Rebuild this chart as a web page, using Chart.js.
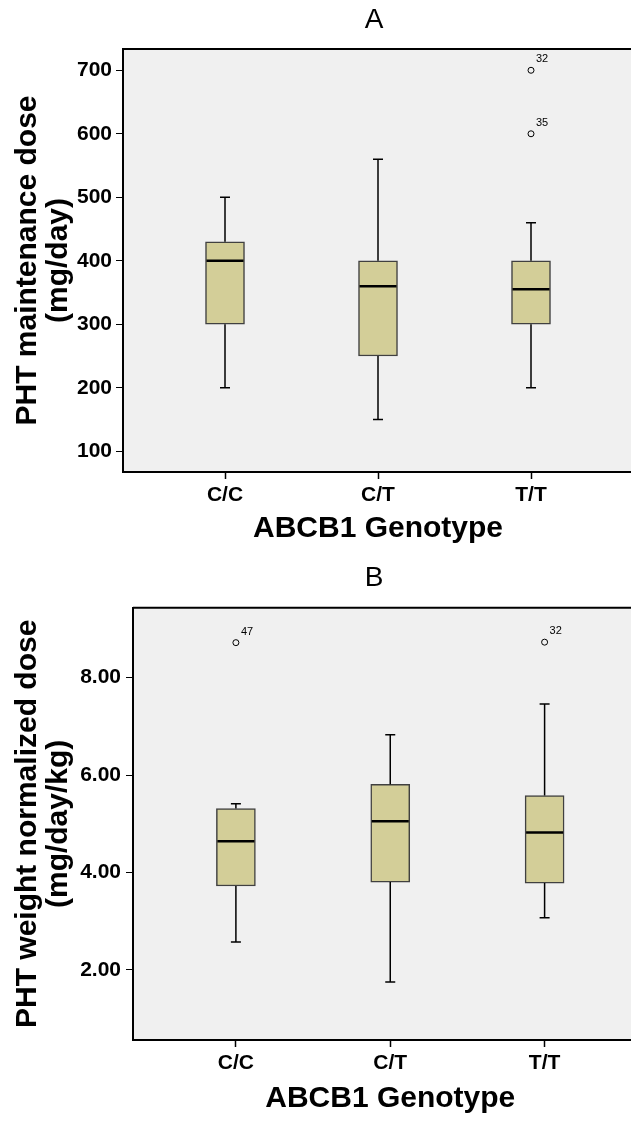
<!DOCTYPE html>
<html>
<head>
<meta charset="utf-8">
<script src="https://cdn.jsdelivr.net/npm/chart.js@4.4.0/dist/chart.umd.min.js"></script>
<style>
  html, body { margin: 0; padding: 0; background: #fff; overflow: hidden; }
  #page { position: relative; width: 631px; height: 1121px; overflow: hidden; }
  .panel { position: absolute; left: 0; }
</style>
</head>
<body>
<div id="page">
  <div class="panel" style="top:0"><canvas id="chartA" width="748" height="555"></canvas></div>
  <div class="panel" style="top:555px"><canvas id="chartB" width="748" height="566"></canvas></div>
</div>
<script>
var genotypes = ['C/C', 'C/T', 'T/T'];

// A: PHT maintenance dose, mg/day
var doseMin = [200, 150, 200];
var doseQ1 = [300, 250, 300];
var doseMedian = [400, 360, 355];
var doseQ3 = [430, 400, 400];
var doseMax = [500, 560, 460];
var doseOutliers = [
  { g: 'T/T', y: 700, id: '32' },
  { g: 'T/T', y: 600, id: '35' }
];
var doseTicks = [100, 200, 300, 400, 500, 600, 700];

// B: weight normalized dose, mg/day/kg
var normMin = [2.57, 1.75, 3.07];
var normQ1 = [3.72, 3.80, 3.78];
var normMedian = [4.64, 5.05, 4.82];
var normQ3 = [5.31, 5.81, 5.58];
var normMax = [5.41, 6.83, 7.46];
var normOutliers = [
  { g: 'C/C', y: 8.72, id: '47' },
  { g: 'T/T', y: 8.73, id: '32' }
];
var normTicks = [2, 4, 6, 8];

var FONT = "'Liberation Sans', Arial, sans-serif";
Chart.defaults.color = '#000';
Chart.defaults.font.family = FONT;

// grey plot background + top frame line
var plotFrame = {
  id: 'plotFrame',
  beforeDraw: function (chart) {
    var a = chart.chartArea, ctx = chart.ctx;
    ctx.save();
    ctx.fillStyle = '#f0f0f0';
    ctx.fillRect(a.left, a.top, a.right - a.left, a.bottom - a.top);
    ctx.restore();
  },
  afterDraw: function (chart) {
    var a = chart.chartArea, ctx = chart.ctx;
    ctx.save();
    ctx.strokeStyle = '#000';
    ctx.lineWidth = 2;
    ctx.beginPath();
    ctx.moveTo(a.left, a.top);
    ctx.lineTo(a.right, a.top);
    ctx.stroke();
    ctx.restore();
  }
};

// whiskers, caps, medians and outlier case numbers
var boxWhiskers = {
  id: 'boxWhiskers',
  afterDatasetsDraw: function (chart, args, opts) {
    var xs = chart.scales.x, ys = chart.scales.y, ctx = chart.ctx;
    var bars = chart.getDatasetMeta(0).data;
    ctx.save();
    ctx.strokeStyle = '#000';
    opts.median.forEach(function (m, i) {
      var cx = xs.getPixelForValue(i + 1);
      var half = bars[i].width / 2;
      var yq1 = ys.getPixelForValue(opts.q1[i]);
      var yq3 = ys.getPixelForValue(opts.q3[i]);
      var ylo = ys.getPixelForValue(opts.min[i]);
      var yhi = ys.getPixelForValue(opts.max[i]);
      var ym = ys.getPixelForValue(m);
      ctx.lineWidth = 1.5;
      ctx.beginPath();
      ctx.moveTo(cx, yq3); ctx.lineTo(cx, yhi);
      ctx.moveTo(cx, yq1); ctx.lineTo(cx, ylo);
      ctx.moveTo(cx - 5, yhi); ctx.lineTo(cx + 5, yhi);
      ctx.moveTo(cx - 5, ylo); ctx.lineTo(cx + 5, ylo);
      ctx.stroke();
      ctx.lineWidth = 2.5;
      ctx.beginPath();
      ctx.moveTo(cx - half + 1, ym);
      ctx.lineTo(cx + half - 1, ym);
      ctx.stroke();
    });
    ctx.font = '11px ' + FONT;
    ctx.fillStyle = '#000';
    ctx.textAlign = 'left';
    ctx.textBaseline = 'middle';
    chart.getDatasetMeta(1).data.forEach(function (pt, i) {
      ctx.fillText(opts.outliers[i].id, pt.x + 5, pt.y - 11);
    });
    ctx.restore();
  }
};

function boxChart(id, p) {
  return new Chart(document.getElementById(id), {
    type: 'bar',
    data: {
      datasets: [{
        type: 'bar',
        data: genotypes.map(function (g, i) { return { x: i + 1, y: [p.q1[i], p.q3[i]] }; }),
        backgroundColor: '#d3ce98',
        borderColor: '#404040',
        borderWidth: 1.5,
        borderSkipped: false,
        barThickness: 39
      }, {
        type: 'scatter',
        data: p.outliers.map(function (o) { return { x: genotypes.indexOf(o.g) + 1, y: o.y }; }),
        pointStyle: 'circle',
        pointRadius: 3,
        pointBorderWidth: 1,
        pointBorderColor: '#000',
        pointBackgroundColor: 'rgba(0,0,0,0)'
      }]
    },
    options: {
      responsive: false,
      animation: false,
      events: [],
      layout: { padding: 0 },
      plugins: {
        legend: { display: false },
        tooltip: { enabled: false },
        title: {
          display: true,
          text: p.title,
          font: { size: 28, weight: 'normal', family: FONT },
          color: '#000',
          padding: p.titlePad
        },
        boxWhiskers: { q1: p.q1, q3: p.q3, min: p.min, max: p.max, median: p.median, outliers: p.outliers }
      },
      scales: {
        x: {
          type: 'linear',
          offset: false,
          min: 1 / 3,
          max: 11 / 3,
          afterFit: function (s) { s.height = p.xHeight; },
          afterBuildTicks: function (s) { s.ticks = genotypes.map(function (g, i) { return { value: i + 1 }; }); },
          grid: { offset: false, drawOnChartArea: false, tickLength: 7, tickColor: '#000', tickWidth: 1.5 },
          border: { color: '#000', width: 2 },
          ticks: {
            padding: 4,
            font: { size: 21, weight: 'bold' },
            color: '#000',
            callback: function (v) { return genotypes[v - 1]; }
          },
          title: {
            display: true,
            text: 'ABCB1 Genotype',
            font: { size: 30, weight: 'bold' },
            color: '#000',
            padding: { top: 0, bottom: p.xTitlePad }
          }
        },
        y: {
          type: 'linear',
          beginAtZero: false,
          min: p.yMin,
          max: p.yMax,
          afterFit: function (s) { s.width = p.yWidth; },
          afterBuildTicks: function (s) { s.ticks = p.ticks.map(function (v) { return { value: v }; }); },
          grid: { drawOnChartArea: false, tickLength: 7, tickColor: '#000', tickWidth: 1 },
          border: { color: '#000', width: 2 },
          ticks: {
            padding: p.yTickPad,
            font: { size: 21, weight: 'bold' },
            color: '#000',
            callback: p.fmt
          },
          title: {
            display: true,
            text: p.yTitle,
            font: { size: 30, weight: 'bold', lineHeight: 1.03 },
            color: '#000',
            padding: { top: 12.5, bottom: 0 }
          }
        },
        // empty right-hand axis: only reserves the space to the right of the plot
        spacer: {
          type: 'linear',
          position: 'right',
          afterFit: function (s) { s.width = p.padRight; },
          grid: { display: false },
          border: { display: false },
          ticks: { display: false }
        }
      }
    },
    plugins: [plotFrame, boxWhiskers]
  });
}

boxChart('chartA', {
  title: 'A',
  titlePad: { top: 3, bottom: 12.4 },
  q1: doseQ1, q3: doseQ3, min: doseMin, max: doseMax, median: doseMedian,
  outliers: doseOutliers,
  ticks: doseTicks,
  yMin: 67.4, yMax: 733.5,
  yWidth: 123, yTickPad: 4,
  xHeight: 83, xTitlePad: 8,
  padRight: 115,
  yTitle: ['PHT maintenance dose', '(mg/day)'],
  fmt: function (v) { return String(v); }
});

boxChart('chartB', {
  title: 'B',
  titlePad: { top: 6.5, bottom: 12.6 },
  q1: normQ1, q3: normQ3, min: normMin, max: normMax, median: normMedian,
  outliers: normOutliers,
  ticks: normTicks,
  yMin: 0.556, yMax: 9.438,
  yWidth: 133, yTickPad: 5,
  xHeight: 81, xTitlePad: 4.7,
  padRight: 100.5,
  yTitle: ['PHT weight normalized dose', '(mg/day/kg)'],
  fmt: function (v) { return v.toFixed(2); }
});
</script>
</body>
</html>
